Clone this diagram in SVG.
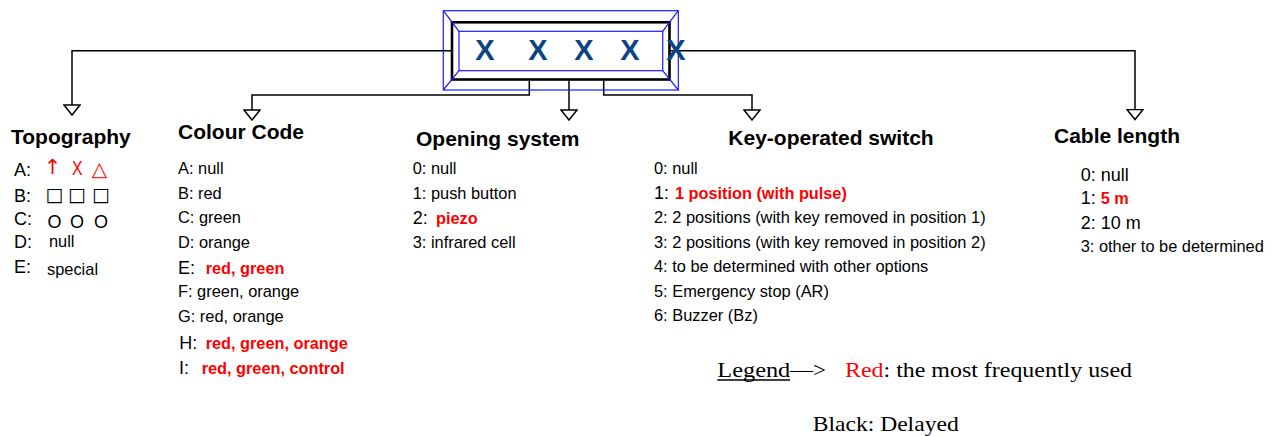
<svg xmlns="http://www.w3.org/2000/svg" width="1277" height="436" viewBox="0 0 1277 436">
<style>
text{font-family:"Liberation Sans",Arial,sans-serif;fill:#000}
.t{font-size:21px;font-weight:bold}
.e{font-size:16.4px}
.l{font-size:18px}
.r{font-size:16.3px;font-weight:bold;fill:#ff0000}
.sym{font-family:"DejaVu Sans","Liberation Sans",sans-serif;text-anchor:middle}
.x{font-size:29px;font-weight:bold;fill:#0a4482;text-anchor:middle}
.leg{font-family:"Liberation Serif","Times New Roman",serif;font-size:21px}
.c{fill:none;stroke:#000;stroke-width:1.5}
.bl{fill:none;stroke:#1a1aff;stroke-width:1.2}
</style>
<defs>
<marker id="tri" viewBox="-1 -1 12 18" refX="0" refY="8" markerWidth="12" markerHeight="18" markerUnits="userSpaceOnUse" orient="auto">
<path d="M0,0 L10,8 L0,16 Z" fill="#fff" stroke="#000" stroke-width="1.5"/>
</marker>
</defs>
<rect width="1277" height="436" fill="#fff"/>
<g id="connectors">
<path class="c" d="M452,50.7 H72 V105" marker-end="url(#tri)"/>
<path class="c" d="M670,50.7 H1135 V109.5" marker-end="url(#tri)"/>
<path class="c" d="M529.3,80 V95 H252 V110" marker-end="url(#tri)"/>
<path class="c" d="M569,80 V110" marker-end="url(#tri)"/>
<path class="c" d="M603.7,80 V95 H752 V110" marker-end="url(#tri)"/>
</g>
<g id="code-box">
<rect class="bl" x="443.3" y="10.7" width="235" height="79.3" fill="#fff"/>
<rect x="452" y="22.3" width="217.5" height="57.2" fill="none" stroke="#000" stroke-width="2.6"/>
<rect class="bl" x="459" y="31.3" width="203.7" height="39.4"/>
<path class="bl" d="M443.3,10.7 L459,31.3 M678.3,10.7 L662.7,31.3 M443.3,90 L459,70.7 M678.3,90 L662.7,70.7"/>
<text class="x" x="485" y="60">X</text>
<text class="x" x="538" y="60">X</text>
<text class="x" x="584" y="60">X</text>
<text class="x" x="630" y="60">X</text>
<text class="x" x="676" y="60">X</text>
</g>
<g id="topography">
<text class="t" x="11" y="144">Topography</text>
<text class="l" x="14" y="176">A:</text>
<text class="sym" x="52.5" y="174" style="fill:#ff0000;font-size:21px">↑</text>
<text x="72" y="175" textLength="10.5" lengthAdjust="spacingAndGlyphs" style="fill:#ff0000;font-size:21px">X</text>
<text class="sym" x="99.5" y="176" style="fill:#ff0000;font-size:20px">△</text>
<text class="l" x="14" y="201.7">B:</text>
<text class="sym" x="54.5" y="201" style="font-size:19px">□</text>
<text class="sym" x="77" y="201" style="font-size:19px">□</text>
<text class="sym" x="101" y="201" style="font-size:19px">□</text>
<text class="l" x="14" y="225">C:</text>
<text class="l sym" x="54.5" y="228" style="font-family:'Liberation Sans',sans-serif">O</text>
<text class="l sym" x="77" y="228" style="font-family:'Liberation Sans',sans-serif">O</text>
<text class="l sym" x="101" y="228" style="font-family:'Liberation Sans',sans-serif">O</text>
<text class="l" x="14" y="248.3">D:</text>
<text class="e" x="49" y="246.7">null</text>
<text class="l" x="14" y="272.7">E:</text>
<text class="e" x="47" y="275">special</text>
</g>
<g id="colour-code">
<text class="t" x="178" y="139">Colour Code</text>
<text class="e" x="178" y="174">A: null</text>
<text class="e" x="178" y="199">B: red</text>
<text class="e" x="178" y="223.3">C: green</text>
<text class="e" x="178" y="247.7">D: orange</text>
<text class="l" x="178" y="274">E:</text>
<text class="r" x="205.7" y="274">red, green</text>
<text class="e" x="178" y="297.3">F: green, orange</text>
<text class="e" x="178" y="321.7">G: red, orange</text>
<text class="l" x="179.3" y="349.3">H:</text>
<text class="r" x="205.7" y="349">red, green, orange</text>
<text class="l" x="179" y="374">I:</text>
<text class="r" x="201.7" y="374">red, green, control</text>
</g>
<g id="opening-system">
<text class="t" x="416" y="146">Opening system</text>
<text class="e" x="412.7" y="174">0: null</text>
<text class="e" x="412.7" y="199.3">1: push button</text>
<text class="l" x="412.7" y="224">2:</text>
<text class="r" x="436" y="224">piezo</text>
<text class="e" x="412.7" y="248.3">3: infrared cell</text>
</g>
<g id="key-switch">
<text class="t" x="728.3" y="145">Key-operated switch</text>
<text class="e" x="654" y="174">0: null</text>
<text class="l" x="654" y="199.3">1:</text>
<text class="r" x="675" y="199">1 position (with pulse)</text>
<text class="e" x="654" y="223.3">2: 2 positions (with key removed in position 1)</text>
<text class="e" x="654" y="247.7">3: 2 positions (with key removed in position 2)</text>
<text class="e" x="654" y="271.7">4: to be determined with other options</text>
<text class="e" x="654" y="296.7">5: Emergency stop (AR)</text>
<text class="e" x="654" y="321">6: Buzzer (Bz)</text>
</g>
<g id="cable-length">
<text class="t" x="1054" y="143.3">Cable length</text>
<text class="l" x="1080.7" y="180.7">0: null</text>
<text class="l" x="1080.7" y="204.3">1:</text>
<text class="r" x="1100.7" y="204.3">5 m</text>
<text class="l" x="1080.7" y="229.3">2: 10 m</text>
<text class="e" x="1080.7" y="251.7">3: other to be determined</text>
</g>
<g id="legend">
<text class="leg" x="717.3" y="376.7" textLength="73" lengthAdjust="spacingAndGlyphs">Legend</text>
<line x1="717.3" y1="380" x2="790" y2="380" stroke="#000" stroke-width="1.3"/>
<text class="leg" x="790" y="376.7" textLength="36" lengthAdjust="spacingAndGlyphs">—&gt;</text>
<text class="leg" x="845" y="376.7" textLength="287" lengthAdjust="spacingAndGlyphs"><tspan fill="#ff0000">Red</tspan>: the most frequently used</text>
<text class="leg" x="812.7" y="431" textLength="146" lengthAdjust="spacingAndGlyphs">Black: Delayed</text>
</g>
</svg>
